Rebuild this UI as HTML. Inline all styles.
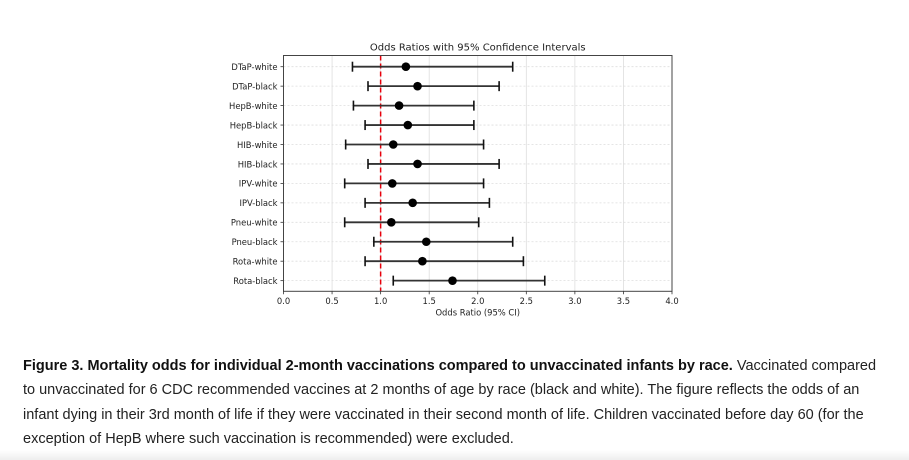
<!DOCTYPE html>
<html><head><meta charset="utf-8"><style>
html,body{margin:0;padding:0;background:#fff;width:909px;height:460px;overflow:hidden;}
#chart{position:absolute;left:0;top:0;}
#cap{position:absolute;left:23px;top:354px;font-family:"Liberation Sans",sans-serif;font-size:14.5px;line-height:24.3px;color:#222;white-space:nowrap;}
#cap b{color:#111}
#fade{position:absolute;left:0;top:450px;width:909px;height:10px;background:linear-gradient(#fff,#eee);}
</style></head><body>
<svg id="chart" width="909" height="345" font-family="'DejaVu Sans',sans-serif"></svg>
<div id="cap"><b>Figure 3. Mortality odds for individual 2-month vaccinations compared to unvaccinated infants by race.</b> Vaccinated compared<br>to unvaccinated for 6 CDC recommended vaccines at 2 months of age by race (black and white). The figure reflects the odds of an<br>infant dying in their 3rd month of life if they were vaccinated in their second month of life. Children vaccinated before day 60 (for the<br>exception of HepB where such vaccination is recommended) were excluded.</div>
<div id="fade"></div>
<script>
const categories=["DTaP-white","DTaP-black","HepB-white","HepB-black","HIB-white","HIB-black","IPV-white","IPV-black","Pneu-white","Pneu-black","Rota-white","Rota-black"];
const oddsRatio=[1.26,1.38,1.19,1.28,1.13,1.38,1.12,1.33,1.11,1.47,1.43,1.74];
const ciLow=[0.71,0.87,0.72,0.84,0.64,0.87,0.63,0.84,0.63,0.93,0.84,1.13];
const ciHigh=[2.36,2.22,1.96,1.96,2.06,2.22,2.06,2.12,2.01,2.36,2.47,2.69];
const xTicks=[0,0.5,1,1.5,2,2.5,3,3.5,4];
const refValue=1.0;

const svg=document.getElementById('chart');
const NS='http://www.w3.org/2000/svg';
const L=283.5,R=672,T=55.5,B=291.3;
const x=v=>L+(v-0)/(4-0)*(R-L);
const y=i=>66.7+i*19.45;
function mk(tag,attrs,parent){const e=document.createElementNS(NS,tag);for(const k in attrs)e.setAttribute(k,attrs[k]);(parent||svg).appendChild(e);return e;}

xTicks.forEach(v=>{
  const g=mk('line',{x1:x(v),x2:x(v),y1:T,y2:B,stroke:'#ddd','stroke-width':0.8});
  
  
});
categories.forEach((c,i)=>{
  const g=mk('line',{x1:L,x2:R,y1:y(i),y2:y(i),stroke:'#ddd','stroke-width':0.8,'stroke-dasharray':'2,2'});
  
  
});
const rl=mk('line',{x1:x(refValue),x2:x(refValue),y1:T,y2:B,stroke:'#e8000b','stroke-width':1.5,'stroke-dasharray':'5,3'});


categories.forEach((c,i)=>{
  const g=mk('g',{});
  
  
  mk('line',{x1:x(ciLow[i]),x2:x(ciHigh[i]),y1:y(i),y2:y(i),stroke:'#333','stroke-width':1.8},g);
  mk('line',{x1:x(ciLow[i]),x2:x(ciLow[i]),y1:y(i)-5,y2:y(i)+5,stroke:'#111','stroke-width':1.6},g);
  mk('line',{x1:x(ciHigh[i]),x2:x(ciHigh[i]),y1:y(i)-5,y2:y(i)+5,stroke:'#111','stroke-width':1.6},g);
  const p=mk('circle',{cx:x(oddsRatio[i]),cy:y(i),r:4.3,fill:'#000'},g);
  
  
  const t=mk('text',{x:L-6,y:y(i)+3.3,'text-anchor':'end','font-size':8.4,fill:'#222'});
  t.textContent=c;
  
  
  mk('line',{x1:L-3,x2:L,y1:y(i),y2:y(i),stroke:'#333','stroke-width':0.8});
});
const fr=mk('rect',{x:L,y:T,width:R-L,height:B-T,fill:'none',stroke:'#444','stroke-width':1});


xTicks.forEach(v=>{
  mk('line',{x1:x(v),x2:x(v),y1:B,y2:B+3,stroke:'#333','stroke-width':0.8});
  const t=mk('text',{x:x(v),y:B+12.5,'text-anchor':'middle','font-size':8.4,fill:'#222'});
  t.textContent=v.toFixed(1);
  
  
});
const xt=mk('text',{x:(L+R)/2,y:B+24,'text-anchor':'middle','font-size':8.4,fill:'#222'});
xt.textContent='Odds Ratio (95% CI)';


const tt=mk('text',{x:(L+R)/2,y:T-5,'text-anchor':'middle','font-size':10,fill:'#222'});
tt.textContent='Odds Ratios with 95% Confidence Intervals';


</script>
</body></html>
